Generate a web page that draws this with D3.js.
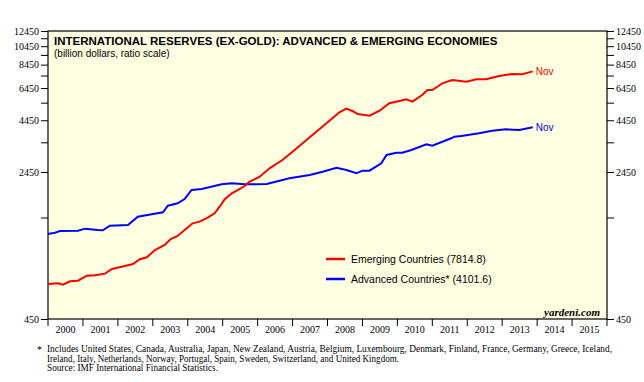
<!DOCTYPE html>
<html><head><meta charset="utf-8">
<script src="https://cdn.jsdelivr.net/npm/d3@7"></script>
<style>body{margin:0;background:#fff}svg{display:block}</style>
</head><body>
<script>
// ---- data (decimal years, billion dollars) ----
const emergingDates = [2000.0,2000.29,2000.43,2000.63,2000.86,2001.11,2001.34,2001.63,2001.83,2002.2,2002.43,2002.63,2002.83,2003.06,2003.34,2003.51,2003.71,2003.91,2004.14,2004.34,2004.57,2004.77,2004.91,2005.06,2005.26,2005.43,2005.63,2005.77,2006.06,2006.34,2006.71,2007.0,2007.4,2007.63,2007.91,2008.14,2008.34,2008.54,2008.71,2008.86,2009.2,2009.49,2009.77,2010.06,2010.26,2010.43,2010.71,2010.86,2011.0,2011.29,2011.57,2011.97,2012.26,2012.54,2012.91,2013.29,2013.57,2013.875];
const emergingValues = [674,679,668,695,700,741,745,759,801,829,848,896,917,997,1056,1132,1172,1256,1356,1382,1447,1522,1642,1789,1917,1991,2085,2191,2321,2557,2814,3096,3544,3828,4213,4551,4877,5084,4951,4783,4690,4968,5410,5556,5666,5511,5954,6307,6307,6814,7078,6941,7135,7135,7412,7585,7558,7814.8];
const advancedDates = [2000.0,2000.2,2000.34,2000.86,2001.06,2001.43,2001.57,2001.77,2002.29,2002.57,2002.97,2003.29,2003.43,2003.71,2003.91,2004.11,2004.4,2004.97,2005.26,2005.63,2005.86,2006.26,2006.91,2007.49,2007.86,2008.26,2008.54,2008.83,2009.0,2009.2,2009.54,2009.69,2009.97,2010.14,2010.4,2010.83,2011.0,2011.54,2011.63,2011.83,2012.34,2012.71,2013.11,2013.49,2013.875];
const advancedValues = [1199,1217,1241,1246,1275,1256,1251,1319,1330,1464,1505,1540,1662,1708,1795,1991,2014,2126,2151,2126,2126,2134,2279,2367,2459,2575,2507,2414,2488,2488,2709,2981,3061,3061,3158,3372,3318,3614,3681,3711,3828,3945,4009,3977,4101.6];
const years = [2000,2001,2002,2003,2004,2005,2006,2007,2008,2009,2010,2011,2012,2013,2014,2015];
const yTickLabels = [450,2450,4450,6450,8450,10450,12450];
const yMinorTicks = [1450,3450,5450,7450,9450,11450];
const seriesNames = ["Emerging Countries (7814.8)","Advanced Countries* (4101.6)"];
const footnoteLines = [
  "Includes United States, Canada, Australia, Japan, New Zealand, Austria, Belgium, Luxembourg, Denmark, Finland, France, Germany, Greece, Iceland,",
  "Ireland, Italy, Netherlands, Norway, Portugal, Spain, Sweden, Switzerland, and United Kingdom.",
  "Source: IMF International Financial Statistics."
];
const footnoteWidths = [565, 352, 171];

const W = 644, H = 382;
const L = 48, R = 607, T = 31, B = 319;
const svg = d3.select("body").append("svg").attr("width", W).attr("height", H);

const x = d3.scaleLinear().domain([2000, 2016]).range([L, R]);
const y = d3.scaleLog().domain([450, 12450]).range([B, T]);

// plot background
svg.append("rect").attr("x", L).attr("y", T).attr("width", R - L).attr("height", B - T)
  .attr("fill", "#FFFFE2");

const serif = "'Liberation Serif','Times New Roman',serif";
const sans = "'Liberation Sans',Arial,sans-serif";

// left and right axes
const allTicks = yTickLabels.concat(yMinorTicks);
const leftAxis = d3.axisLeft(y).tickValues(allTicks).tickSize(7).tickPadding(2)
  .tickFormat(d => yTickLabels.includes(d) ? d : "");
const gl = svg.append("g").attr("transform", `translate(${L},0)`).call(leftAxis);
const rightAxis = d3.axisRight(y).tickValues(allTicks).tickSize(7).tickPadding(2)
  .tickFormat(d => yTickLabels.includes(d) ? d : "");
const gr = svg.append("g").attr("transform", `translate(${R},0)`).call(rightAxis);
[gl, gr].forEach(g => {
  g.select(".domain").remove();
  g.selectAll("line").attr("stroke", "#000").attr("stroke-width", 1);
  g.selectAll("text").attr("font-family", serif).attr("font-size", 10).attr("fill", "#000");
});

// bottom axis: ticks at year boundaries, labels centered
const bottom = svg.append("g");
bottom.selectAll("line.tk").data(years.concat([2016])).join("line")
  .attr("x1", d => x(d)).attr("x2", d => x(d)).attr("y1", B).attr("y2", B + 7)
  .attr("stroke", "#000");
bottom.selectAll("text").data(years).join("text")
  .attr("x", d => x(d + 0.5)).attr("y", B + 14).attr("text-anchor", "middle")
  .attr("font-family", serif).attr("font-size", 10).text(d => d);

// frame
svg.append("rect").attr("x", L).attr("y", T).attr("width", R - L).attr("height", B - T)
  .attr("fill", "none").attr("stroke", "#000").attr("stroke-width", 1.2);

// lines
const line = d3.line().x(d => x(d[0])).y(d => y(d[1]));
const emerging = emergingDates.map((d, i) => [d, emergingValues[i]]);
const advanced = advancedDates.map((d, i) => [d, advancedValues[i]]);
svg.append("path").datum(advanced).attr("d", line).attr("fill", "none")
  .attr("stroke", "#0000FF").attr("stroke-width", 2);
svg.append("path").datum(emerging).attr("d", line).attr("fill", "none")
  .attr("stroke", "#FF0000").attr("stroke-width", 2);

// end labels
const lastE = emerging[emerging.length - 1], lastA = advanced[advanced.length - 1];
svg.append("text").attr("x", x(lastE[0]) + 3).attr("y", y(lastE[1]) + 3.5)
  .attr("font-family", sans).attr("font-size", 10).attr("fill", "#FF0000").text("Nov");
svg.append("text").attr("x", x(lastA[0]) + 3).attr("y", y(lastA[1]) + 3.5)
  .attr("font-family", sans).attr("font-size", 10).attr("fill", "#0000FF").text("Nov");

// legend
const legColors = ["#FF0000", "#0000FF"];
seriesNames.forEach((n, i) => {
  const ly = 259 + i * 20;
  svg.append("line").attr("x1", 326).attr("x2", 345).attr("y1", ly).attr("y2", ly)
    .attr("stroke", legColors[i]).attr("stroke-width", 2.5);
  svg.append("text").attr("x", 351).attr("y", ly + 4).attr("font-family", sans)
    .attr("font-size", 10.5).attr("fill", "#000").text(n);
});

// titles
svg.append("text").attr("x", 54).attr("y", 45).attr("font-family", sans).attr("font-weight", "bold")
  .attr("font-size", 11.5).text("INTERNATIONAL RESERVES (EX-GOLD): ADVANCED & EMERGING ECONOMIES");
svg.append("text").attr("x", 54).attr("y", 57).attr("font-family", sans)
  .attr("font-size", 10).text("(billion dollars, ratio scale)");

// yardeni
svg.append("text").attr("x", 600).attr("y", 316).attr("text-anchor", "end")
  .attr("font-family", serif).attr("font-style", "italic").attr("font-weight", "bold")
  .attr("font-size", 11).text("yardeni.com");

// footnote
svg.append("text").attr("x", 37).attr("y", 353).attr("font-family", serif).attr("font-size", 10).text("*");
footnoteLines.forEach((t, i) => {
  svg.append("text").attr("x", 47).attr("y", 352 + i * 9.7).attr("font-family", serif)
    .attr("font-size", 9.5).attr("textLength", footnoteWidths[i])
    .attr("lengthAdjust", "spacingAndGlyphs").text(t);
});
</script>
</body></html>
